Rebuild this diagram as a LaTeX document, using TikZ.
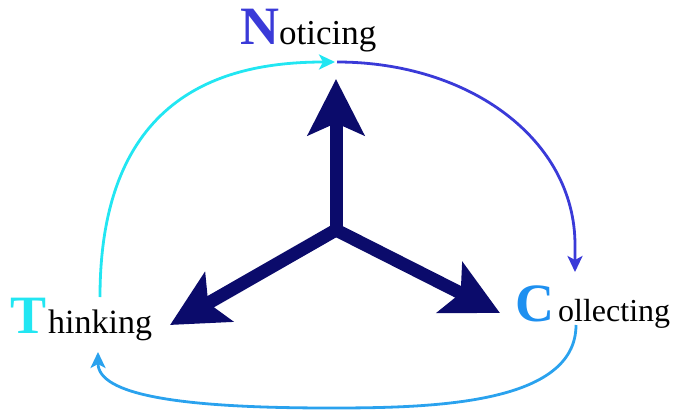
\documentclass[tikz,border=0pt]{standalone}
\usepackage{fontspec}
\setmainfont{Liberation Serif}
\usetikzlibrary{arrows.meta}
\definecolor{navyc}{HTML}{0B0B6B}
\definecolor{cyanc}{HTML}{22E6F2}
\definecolor{violetc}{HTML}{3A3AD8}
\definecolor{skyc}{HTML}{1E90F0}
\definecolor{skyline}{HTML}{2AA2EE}
\newcommand{\initletter}[2]{{\fontsize{54}{60}\selectfont\bfseries\color{#1}#2}}
\begin{document}
\begin{tikzpicture}[x=1pt,y=-1pt,
  bigarrow/.style={navyc, line width=13pt, line cap=round,
    -{Stealth[length=56pt,width=56pt,inset=12pt]}},
  thinarrow/.style={line width=2.8pt,
    -{Stealth[length=16pt,width=15pt,inset=4pt]}},
  label/.style={anchor=base west, inner sep=0pt, text=black}]
\useasboundingbox (0,0) rectangle (675,415);

% labels
\node[label, font=\fontsize{35}{40}\selectfont] (N) at (240,44) {\initletter{violetc}{N}oticing};
\node[label, font=\fontsize{34}{40}\selectfont] (T) at (10,333) {\initletter{cyanc}{T}\hspace{2pt}hinking};
\node[label, font=\fontsize{32}{40}\selectfont] (C) at (515,321) {\initletter{skyc}{C}\hspace{4pt}ollecting};

% central arrows
\coordinate (ctr) at (336,230);
\coordinate (tipN) at (336,79);
\coordinate (tipT) at (170,325);
\coordinate (tipC) at (500,313);
\draw[bigarrow] (ctr) -- (tipN);
\draw[bigarrow] (ctr) -- (tipT);
\draw[bigarrow] (ctr) -- (tipC);

% cycle connectors
\coordinate (tOut) at (100,297);
\coordinate (nIn) at (335,62);
\coordinate (nOut) at (337,62);
\coordinate (cIn) at (575,272);
\coordinate (cOut) at (576,325);
\coordinate (tIn) at (98,352);
\draw[thinarrow, cyanc] (tOut) .. controls (100,90) and (230,62) .. (nIn);
\draw[thinarrow, violetc] (nOut) .. controls (470,62) and (575,140) .. (575,245) -- (cIn);
\draw[thinarrow, skyline] (cOut) .. controls (576,405) and (430,408) .. (330,408)
  .. controls (180,408) and (98,395) .. (tIn);
\end{tikzpicture}
\end{document}
